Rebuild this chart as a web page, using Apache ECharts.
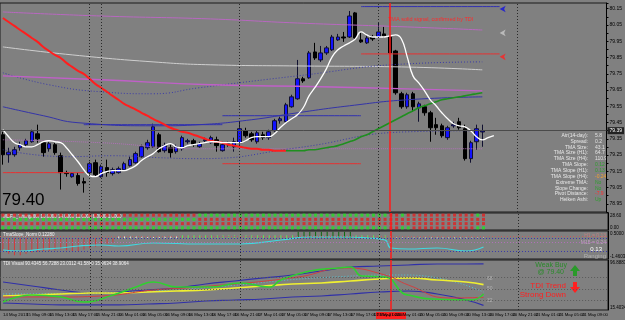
<!DOCTYPE html>
<html>
<head>
<meta charset="utf-8">
<script src="https://cdn.jsdelivr.net/npm/echarts@6/dist/echarts.min.js"></script>
<style>
html, body { margin: 0; padding: 0; background: #808080; }
#main { width: 625px; height: 320px; }
</style>
</head>
<body>
<div id="main"></div>
<script>
// USDJPY-like H1 chart, TMA + TDI template
var candles = [ // [open, close, low, high]
  [79.375,79.252,79.191,79.393],[79.252,79.268,79.203,79.295],[79.252,79.283,79.240,79.301],[79.295,79.314,79.277,79.332],
  [79.314,79.338,79.301,79.350],[79.332,79.393,79.326,79.406],[79.381,79.350,79.326,79.437],[79.326,79.265,79.240,79.338],
  [79.289,79.320,79.271,79.332],[79.314,79.265,79.252,79.326],[79.246,79.142,79.038,79.265],[79.142,79.136,79.117,79.154],
  [79.117,79.136,79.111,79.142],[79.124,79.075,79.062,79.142],[79.087,79.078,79.019,79.111],[79.142,79.197,79.130,79.209],
  [79.203,79.130,79.117,79.222],[79.117,79.179,79.111,79.191],[79.173,79.142,79.117,79.222],[79.136,79.160,79.124,79.173],
  [79.142,79.166,79.136,79.179],[79.160,79.197,79.154,79.209],[79.185,79.222,79.179,79.240],[79.203,79.259,79.197,79.271],
  [79.240,79.301,79.234,79.314],[79.295,79.326,79.283,79.344],[79.301,79.424,79.295,79.443],[79.375,79.271,79.265,79.387],
  [79.277,79.308,79.265,79.326],[79.295,79.265,79.234,79.314],[79.271,79.301,79.259,79.314],[79.289,79.357,79.277,79.369],
  [79.332,79.338,79.320,79.350],[79.338,79.314,79.301,79.350],[79.301,79.320,79.295,79.332],[79.338,79.344,79.326,79.357],
  [79.326,79.357,79.320,79.369],[79.344,79.308,79.271,79.363],[79.277,79.314,79.271,79.326],[79.314,79.320,79.301,79.332],
  [79.301,79.332,79.271,79.357],[79.326,79.412,79.314,79.455],[79.400,79.369,79.357,79.418],[79.381,79.344,79.332,79.393],
  [79.332,79.387,79.320,79.400],[79.375,79.357,79.344,79.393],[79.357,79.393,79.344,79.406],[79.400,79.461,79.393,79.473],
  [79.461,79.473,79.443,79.486],[79.455,79.559,79.449,79.571],[79.547,79.608,79.541,79.621],[79.596,79.719,79.590,79.835],
  [79.719,79.706,79.694,79.731],[79.725,79.878,79.719,79.890],[79.884,79.847,79.835,79.940],[79.835,79.878,79.823,79.921],
  [79.878,79.909,79.866,79.921],[79.897,79.976,79.890,79.989],[79.958,79.976,79.952,79.995],[79.976,79.970,79.946,80.007],
  [79.976,80.105,79.970,80.136],[80.124,79.970,79.964,80.130],[79.958,79.946,79.940,80.007],[79.940,79.970,79.933,79.983],
  [79.976,79.964,79.952,79.989],[79.976,80.007,79.970,80.062],[79.995,79.983,79.970,80.038],[79.976,79.878,79.872,79.989],
  [79.890,79.633,79.621,79.897],[79.627,79.547,79.535,79.639],[79.547,79.621,79.535,79.633],[79.627,79.547,79.516,79.639],
  [79.541,79.565,79.455,79.578],[79.547,79.510,79.492,79.559],[79.510,79.418,79.332,79.522],[79.437,79.418,79.375,79.479],
  [79.430,79.369,79.357,79.443],[79.357,79.418,79.344,79.430],[79.430,79.437,79.418,79.455],[79.455,79.418,79.406,79.479],
  [79.412,79.228,79.216,79.437],[79.228,79.326,79.203,79.338],[79.332,79.412,79.283,79.437],[79.392,79.398,79.301,79.437]
];

// TMA centre (white), one value per bar, runs 2 bars past the last candle
var tmaMid = [79.406,79.363,79.326,79.314,79.301,79.301,79.314,79.332,79.338,79.332,79.326,79.295,79.252,79.209,79.160,79.124,
  79.117,79.136,79.148,79.154,79.154,79.154,79.167,79.185,79.216,79.240,79.259,79.289,79.308,79.320,79.301,79.295,
  79.308,79.314,79.320,79.326,79.332,79.332,79.326,79.326,79.326,79.326,79.338,79.357,79.363,79.363,79.363,79.381,
  79.418,79.449,79.473,79.498,79.541,79.614,79.664,79.719,79.780,79.854,79.897,79.921,79.940,79.964,80.007,79.989,
  79.976,79.976,79.976,79.983,79.989,79.964,79.854,79.737,79.694,79.645,79.590,79.553,79.510,79.473,79.443,79.430,
  79.424,79.400,79.363,79.344,79.357,79.369];

// slow MA, red while falling (bars 0-49), green while rising (49-83)
var maDown = [80.093,80.068,80.044,80.019,79.995,79.970,79.946,79.915,79.890,79.866,79.847,79.817,79.792,79.768,79.749,79.719,
  79.688,79.664,79.639,79.614,79.590,79.565,79.547,79.529,79.510,79.492,79.473,79.455,79.437,79.418,79.406,79.393,
  79.387,79.375,79.363,79.350,79.338,79.332,79.326,79.314,79.308,79.301,79.295,79.289,79.289,79.283,79.283,79.277,
  79.277,79.277];
var maUp = [79.277,79.277,79.277,79.277,79.283,79.283,79.289,79.295,79.301,79.308,79.320,79.332,79.344,79.363,79.375,79.393,
  79.412,79.430,79.449,79.467,79.486,79.504,79.522,79.541,79.553,79.565,79.578,79.590,79.596,79.602,79.608,79.614,
  79.621,79.627,79.633];

// band lines read at a few bars each: [bar, price]
var bandPinkTop = [[0,80.130],[17,80.105],[36,80.087],[51,80.062],[70,80.038],[83,80.019]];
var bandGrey = [[0,79.915],[12,79.866],[26,79.823],[36,79.805],[51,79.798],[69,79.792],[83,79.774]];
var bandNavyDotTop = [[0,79.756],[8,79.682],[17,79.639],[26,79.627],[34,79.664],[51,79.737],[70,79.811],[83,79.823]];
var bandPinkMid = [[0,79.737],[17,79.713],[36,79.682],[55,79.670],[70,79.657],[83,79.645]];
var bandNavyMid = [[0,79.547],[7,79.492],[13,79.449],[27,79.430],[34,79.437],[43,79.467],[51,79.510],[60,79.553],[70,79.590],[83,79.608]];
var bandPinkLow = [[0,79.344],[17,79.326],[34,79.289],[51,79.289],[83,79.289]];
var bandNavyDotLow = [[0,79.283],[11,79.240],[19,79.246],[27,79.234],[34,79.228],[51,79.295],[70,79.393],[83,79.400]];

// daily high / low segments
var highLines = [[14,38,79.437],[38,62,79.492],[62,86,80.163]];
var lowLines = [[0,14,79.142],[38,62,79.197],[62,86,79.872]];
var arrows = [[86,80.148,'#1010e0'],[86,80.001,'#c8c8c8'],[86,79.854,'#ff2020']];

var bidPrice = 79.398;
var signalBar = 67;
var separators = [15, 17, 41, 65, 89];

// dot matrix, r = red, g = green, 4 rows, one dot per bar
var dotRows = [
  'rrrrrrrrrrrrrrrrrrrrrrrrrrrrrrrrrr' + 'ggggggggggggggggggggggggggggggggg' + 'rrgrrrrrrrrrrrrgr',
  'gggggggggggggggggggggggggggggggggg' + 'rrrrrrrrrrrrrrrrrrrrrrrrrrrrrrrrr' + 'rrrrrrrrrrrrrrrrr',
  'rrrrrrrrrrrrrrrrrrrrrrrrrrrrrrrrrr' + 'rrrrrrrrrrrrrrrrrrrrrrrrrrrrrrrrr' + 'rrrrrrrrrrrrrrrrr',
  'gggggggggggggggggggggggggggggggggg' + 'ggggggggggggggggggggggggggggggggg' + 'rrggrrrrrrrrrrrgg'
];

// TmaSlope histogram + line
var slopeHist = [-0.9,-1.1,-1.2,-1.2,-1.1,-1.0,-0.95,-0.9,-0.9,-0.85,-0.8,-0.85,-0.9,-0.9,-0.8,-0.7,-0.6,-0.5,-0.4,-0.3,
  0.12,0.12,0.12,0.12,0.12,0.12,0.12,0.12,0.12,0.12,0.12,0.2,0.2,0.2,0.2,0.2,0.2,0.2,0.2,0.2,0.2,0.2,0.2,0.2,0.2,0.2,0.2,0.2,0.2,0.2,0.2,
  0.45,0.45,0.45,0.45,0.45,0.45,0.45,0.45,0.45,0.45,0.2,0.2,0.2,0.2,0.2,0.2,
  0.05,0.05,0.05,0.05,0.05,0.05,0.05,0.05,0.05,0.05,0.05,0.05,0.05,0.05,0.05,0.05,0.05];
var slopeLine = [[0,-0.83],[3,-0.90],[7,-0.76],[10,-0.69],[13,-0.55],[17,-0.48],[20,-0.55],[26,-0.34],[34,-0.41],[41,-0.41],
  [48,-0.13],[53,0.08],[60,0.08],[63,0.01],[66,-0.13],[67,-0.69],[70,-0.76],[75,-0.69],[80,-0.90],[83,-0.62]];

// TDI lines
var tdiUpper = [[0,61.0],[5,54.5],[10,48.0],[15,43.1],[20,44.7],[25,48.0],[30,51.3],[35,57.8],[40,62.7],[45,67.6],[50,72.4],[55,79.0],[60,85.5],[65,87.1],[70,88.75],[75,90.4],[80,90.4],[83,90.43]];
var tdiLower = [[0,26.8],[5,25.2],[10,23.6],[15,23.6],[20,23.6],[25,25.2],[30,26.8],[35,30.1],[40,31.7],[45,33.3],[50,36.6],[55,38.2],[60,41.5],[65,44.7],[70,46.4],[75,41.5],[80,31.7],[83,23.03]];
var tdiBase = [[0,38.2],[5,39.9],[10,41.5],[15,43.1],[20,43.1],[25,44.7],[30,46.4],[35,48.0],[40,51.3],[45,54.5],[50,57.8],[55,59.4],[60,62.7],[65,65.9],[70,67.6],[75,64.3],[80,61.0],[83,56.73]];
var tdiPrice = [[0,28.4],[5,39.9],[10,36.6],[14,28.4],[19,39.9],[23,52.9],[26,61.0],[30,52.9],[36,52.9],[41,59.4],[46,52.9],[48,64.3],[53,79.0],[58,83.9],[60,85.5],[62,70.8],[66,69.2],[69,43.1],[70,39.9],[74,33.3],[81,31.7],[83,41.59]];
var tdiSignal = [[0,36.6],[9,36.6],[17,38.2],[26,48.0],[34,52.9],[51,69.2],[59,83.9],[66,72.4],[70,56.2],[77,35.0],[83,35.96]];
var tdiMidDot = [[0,41.5],[17,43.1],[34,51.3],[57,69.2],[70,72.4],[83,44.7]];
var tdiLevels = [68, 50, 32];

// bottom time labels, one every 4 bars
var timeLabels = ['14 May 2013','15 May 09:00','15 May 13:00','15 May 17:00','15 May 21:00','16 May 01:00','16 May 05:00',
  '16 May 09:00','16 May 13:00','16 May 17:00','16 May 21:00','17 May 01:00','17 May 05:00','17 May 09:00','17 May 13:00',
  '17 May 17:00','17 May 21:00','20 May 01:00','20 May 05:00','20 May 09:00','20 May 13:00','20 May 17:00','20 May 21:00',
  '21 May 01:00','21 May 05:00','21 May 09:00'];

var infoLabels = ['Atr(14-day):','Spread:','TMA Size:','TMA Size (H1):','TMA Size (H4):','TMA Slope:','TMA Slope (H1):',
  'TMA Slope (H4):','Extreme TMA:','Slope Change:','Pivot Distance:','Heiken Ashi:'];
var infoValues = ['5.8','0.2','43.1','64.7','110.9','0.12','0.13','-0.24','No','No','-7.9','Up'];
var infoColors = ['#e0e0e0','#e0e0e0','#e0e0e0','#e0e0e0','#e0e0e0','#2e9e2e','#2e9e2e','#f0a030','#2e9e2e','#2e9e2e','#ff3030','#2e9e2e'];

var slots = 105;
var cats = [];
for (var k = 0; k < slots; k++) cats.push(k);

var FONT = 'Liberation Sans';
var grids = [
  { left: -1, right: 17, top: 3, height: 209 },
  { left: -1, right: 17, top: 213, height: 17 },
  { left: -1, right: 17, top: 231, height: 28 },
  { left: -1, right: 17, top: 260, height: 50 }
];
grids.forEach(function (g) {
  g.show = true; g.borderColor = '#1a1a1a'; g.borderWidth = 1; g.backgroundColor = 'transparent';
});

var xAxes = grids.map(function (g, gi) {
  return {
    type: 'category', gridIndex: gi, data: cats, boundaryGap: true,
    axisLine: { show: false }, axisTick: { show: false }, splitLine: { show: false },
    axisLabel: gi === 3 ? {
      show: true, interval: 0, margin: 3, fontSize: 4.3, color: '#000', fontFamily: FONT, align: 'left',
      formatter: function (v, idx) { return idx % 4 === 0 ? (timeLabels[idx / 4] || '') : ''; }
    } : { show: false }
  };
});

function sideAxis(gi, min, max, extra) {
  var a = {
    type: 'value', gridIndex: gi, position: 'right', min: min, max: max, scale: true,
    axisLine: { show: true, lineStyle: { color: '#000' } },
    axisTick: { show: false }, splitLine: { show: false },
    axisLabel: { show: false }
  };
  return Object.assign(a, extra || {});
}

var yAxes = [
  sideAxis(0, 78.9, 80.185, {
    interval: 0.05,
    axisTick: { show: true, length: 2, lineStyle: { color: '#000' } },
    axisLabel: {
      show: true, margin: 3, fontSize: 5, color: '#000', fontFamily: FONT,
      formatter: function (v) { return Math.round(v * 100) % 10 === 5 ? v.toFixed(2) : ''; }
    }
  }),
  sideAxis(1, 0.5, 4.5),
  sideAxis(2, -1.4603, 0.5),
  sideAxis(3, 15.4034, 96.8883)
];

function vLines(gi) {
  var d = separators.map(function (s) {
    return { xAxis: s, lineStyle: { color: '#2a2a2a', type: [1, 2], width: 1 } };
  });
  d.push({ xAxis: signalBar, lineStyle: { color: '#ff1a1a', type: 'solid', width: 1.5 } });
  return { silent: true, symbol: 'none', label: { show: false }, data: d };
}

function band(name, data, color, width, dash, gi) {
  return {
    name: name, type: 'line', xAxisIndex: gi || 0, yAxisIndex: gi || 0, data: data,
    showSymbol: false, symbol: 'none', smooth: true, silent: true,
    lineStyle: { color: color, width: width, type: dash || 'solid' }
  };
}

var series = [];

// main panel
series.push({
  type: 'line', xAxisIndex: 0, yAxisIndex: 0, data: [], silent: true,
  markLine: (function () {
    var m = vLines(0);
    m.data.push({ yAxis: bidPrice, lineStyle: { color: '#4a4a4a', type: 'solid', width: 1 },
      label: { show: true, position: 'end', distance: 1, formatter: '79.39', fontSize: 5, color: '#fff',
        backgroundColor: '#222', padding: [1, 2], fontFamily: FONT } });
    return m;
  })()
});
series.push(band('pinkTop', bandPinkTop, '#b868c0', 1));
series.push(band('grey', bandGrey, '#cfcfcf', 1));
series.push(band('navyDotTop', bandNavyDotTop, '#3a3aa8', 1, [1, 2]));
series.push(band('pinkMid', bandPinkMid, '#c060c8', 1.4));
series.push(band('navyMid', bandNavyMid, '#3434a8', 1));
series.push(band('pinkLow', bandPinkLow, '#b070b8', 1, [1, 1]));
series.push(band('navyDotLow', bandNavyDotLow, '#3a3aa8', 1, [1, 2]));

highLines.forEach(function (h) {
  series.push(band('hi', [[h[0], h[2]], [h[1], h[2]]], '#3030b0', 1));
});
lowLines.forEach(function (h) {
  series.push(band('lo', [[h[0], h[2]], [h[1], h[2]]], '#e83030', 1));
});
series.push({
  type: 'scatter', xAxisIndex: 0, yAxisIndex: 0, silent: true, symbol: 'arrow', symbolSize: [5, 6], symbolRotate: 90,
  data: arrows.map(function (a) { return { value: [a[0], a[1]], itemStyle: { color: a[2] } }; })
});

series.push(band('maDown', maDown.map(function (v, i) { return [i, v]; }), '#ff1e1e', 2));
series.push(band('maUp', maUp.map(function (v, i) { return [i + 49, v]; }), '#1f8f1f', 1.6));
series.push({
  type: 'candlestick', xAxisIndex: 0, yAxisIndex: 0, data: candles, barWidth: 4, silent: true,
  itemStyle: { color: '#1212ff', color0: '#000', borderColor: '#101030', borderColor0: '#000', borderWidth: 1 }
});
series.push(band('tma', tmaMid.map(function (v, i) { return [i, v]; }), '#ffffff', 1.3));

// dot matrix
var dots = [];
dotRows.forEach(function (row, r) {
  for (var i = 0; i < row.length; i++) {
    dots.push({ value: [i, 4 - r], itemStyle: { color: row[i] === 'g' ? '#22e022' : '#e02020' } });
  }
});
series.push({
  type: 'scatter', xAxisIndex: 1, yAxisIndex: 1, data: dots, symbol: 'rect', symbolSize: 3, silent: true,
  markLine: vLines(1)
});

// slope panel
series.push({
  type: 'bar', xAxisIndex: 2, yAxisIndex: 2, barWidth: 1, silent: true,
  data: slopeHist.map(function (v) {
    var c = v < 0 ? '#d03a3a' : (v > 0.4 ? '#0f6a0f' : (v > 0.15 ? '#5ee05e' : '#e8e8e8'));
    return { value: v, itemStyle: { color: c } };
  }),
  markLine: (function () {
    var m = vLines(2);
    [[0.15, '#c06060'], [0, '#3a3aa8'], [-0.27, '#b070b8'], [-0.9, '#3a3aa8']].forEach(function (l) {
      m.data.push({ yAxis: l[0], lineStyle: { color: l[1], type: [1, 2], width: 1 } });
    });
    return m;
  })()
});
series.push(band('slope', slopeLine, '#40d8e0', 1.2, 'solid', 2));

// TDI panel
series.push({
  type: 'line', xAxisIndex: 3, yAxisIndex: 3, data: [], silent: true,
  markLine: (function () {
    var m = vLines(3);
    tdiLevels.forEach(function (l) {
      m.data.push({ yAxis: l, lineStyle: { color: '#5a5a5a', type: [1, 2], width: 1 } });
    });
    return m;
  })()
});
series.push(band('tdiUpper', tdiUpper, '#3030a8', 1.2, 'solid', 3));
series.push(band('tdiLower', tdiLower, '#3030a8', 1.2, 'solid', 3));
series.push(band('tdiMid', tdiMidDot, '#50c8d8', 1, [1, 2], 3));
series.push(band('tdiBase', tdiBase, '#f0f030', 1.6, 'solid', 3));
series.push(band('tdiSignal', tdiSignal, '#d04040', 1, 'solid', 3));
series.push(band('tdiPrice', tdiPrice, '#30d030', 1.6, 'solid', 3));

// texts
var graphics = [
  { type: 'text', left: 2, top: 192, style: { text: '79.40', fontSize: 17, fill: '#000', fontFamily: FONT } },
  { type: 'text', left: 388, top: 16, style: { text: 'TMA solid signal, confirmed by TDI', fontSize: 5.5, fill: '#ff2a2a', fontFamily: FONT } },
  { type: 'text', left: 3, top: 214, style: { text: 'MBFX_Timing(60) 16.0000 14.0000 11.0000 8.0000 1.0000', fontSize: 4.5, fill: '#f0f0f0', fontFamily: FONT } },
  { type: 'text', left: 3, top: 232, style: { text: 'TmaSlope_Norm 0.12280', fontSize: 4.5, fill: '#f0f0f0', fontFamily: FONT } },
  { type: 'text', left: 3, top: 261, style: { text: 'TDI Visual 90.4345 56.7288 23.0312 41.5890 35.9634 38.9064', fontSize: 4.5, fill: '#f0f0f0', fontFamily: FONT } },
  { type: 'text', x: 606, y: 233, style: { text: 'H1 = 0.13', fontSize: 5, fill: '#c08080', align: 'right', fontFamily: FONT } },
  { type: 'text', x: 606, y: 240, style: { text: 'M15 = 0.24', fontSize: 5, fill: '#c0a0c0', align: 'right', fontFamily: FONT } },
  { type: 'text', x: 602, y: 246, style: { text: '0.13', fontSize: 6, fill: '#ffffff', align: 'right', fontFamily: FONT } },
  { type: 'text', x: 606, y: 253, style: { text: 'Ranging', fontSize: 6, fill: '#b0b0b0', align: 'right', fontFamily: FONT } },
  { type: 'text', x: 487, y: 276, style: { text: '68', fontSize: 5, fill: '#b0b0b0', fontFamily: FONT } },
  { type: 'text', x: 487, y: 286, style: { text: '50', fontSize: 5, fill: '#b0b0b0', fontFamily: FONT } },
  { type: 'text', x: 487, y: 298, style: { text: '32', fontSize: 5, fill: '#b0b0b0', fontFamily: FONT } },
  { type: 'text', x: 567, y: 262, style: { text: 'Weak Buy', fontSize: 7, fill: '#2a8a2a', align: 'right', fontFamily: FONT } },
  { type: 'text', x: 564, y: 269, style: { text: '@ 79.40', fontSize: 7, fill: '#2a8a2a', align: 'right', fontFamily: FONT } },
  { type: 'text', x: 566, y: 282, style: { text: 'TDI Trend', fontSize: 8, fill: '#ff2020', align: 'right', fontFamily: FONT } },
  { type: 'text', x: 566, y: 291, style: { text: 'Strong Down', fontSize: 8, fill: '#ff2020', align: 'right', fontFamily: FONT } },
  { type: 'polygon', shape: { points: [[575, 265], [570, 271], [573, 271], [573, 276], [577, 276], [577, 271], [580, 271]] }, style: { fill: '#2a9a2a' } },
  { type: 'polygon', shape: { points: [[575, 293], [570, 287], [573, 287], [573, 282], [577, 282], [577, 287], [580, 287]] }, style: { fill: '#ff2020' } },
  { type: 'text', x: 610, y: 213, style: { text: '28.60', fontSize: 4.5, fill: '#000', fontFamily: FONT } },
  { type: 'text', x: 610, y: 225, style: { text: '0.00', fontSize: 4.5, fill: '#000', fontFamily: FONT } },
  { type: 'text', x: 610, y: 231, style: { text: '0.5000', fontSize: 4.5, fill: '#000', fontFamily: FONT } },
  { type: 'text', x: 610, y: 254, style: { text: '-1.4603', fontSize: 4.5, fill: '#000', fontFamily: FONT } },
  { type: 'text', x: 610, y: 260, style: { text: '96.8883', fontSize: 4.5, fill: '#000', fontFamily: FONT } },
  { type: 'text', x: 610, y: 305, style: { text: '15.4034', fontSize: 4.5, fill: '#000', fontFamily: FONT } },
  { type: 'rect', shape: { x: 376, y: 312, width: 30, height: 7 }, style: { fill: '#ff2020' } },
  { type: 'text', x: 377, y: 313, style: { text: '22 May 02:00', fontSize: 4.3, fill: '#000', fontFamily: FONT } }
];
infoLabels.forEach(function (t, r) {
  graphics.push({ type: 'text', x: 588, y: 133 + r * 5.85, style: { text: t, fontSize: 5, fill: '#e8e8e8', align: 'right', fontFamily: FONT } });
  graphics.push({ type: 'text', x: 595, y: 133 + r * 5.85, style: { text: infoValues[r], fontSize: 5, fill: infoColors[r], fontFamily: FONT } });
});

var chart = echarts.init(document.getElementById('main'));
chart.setOption({
  backgroundColor: '#808080',
  animation: false,
  grid: grids,
  xAxis: xAxes,
  yAxis: yAxes,
  series: series,
  graphic: graphics
});
</script>
</body>
</html>
